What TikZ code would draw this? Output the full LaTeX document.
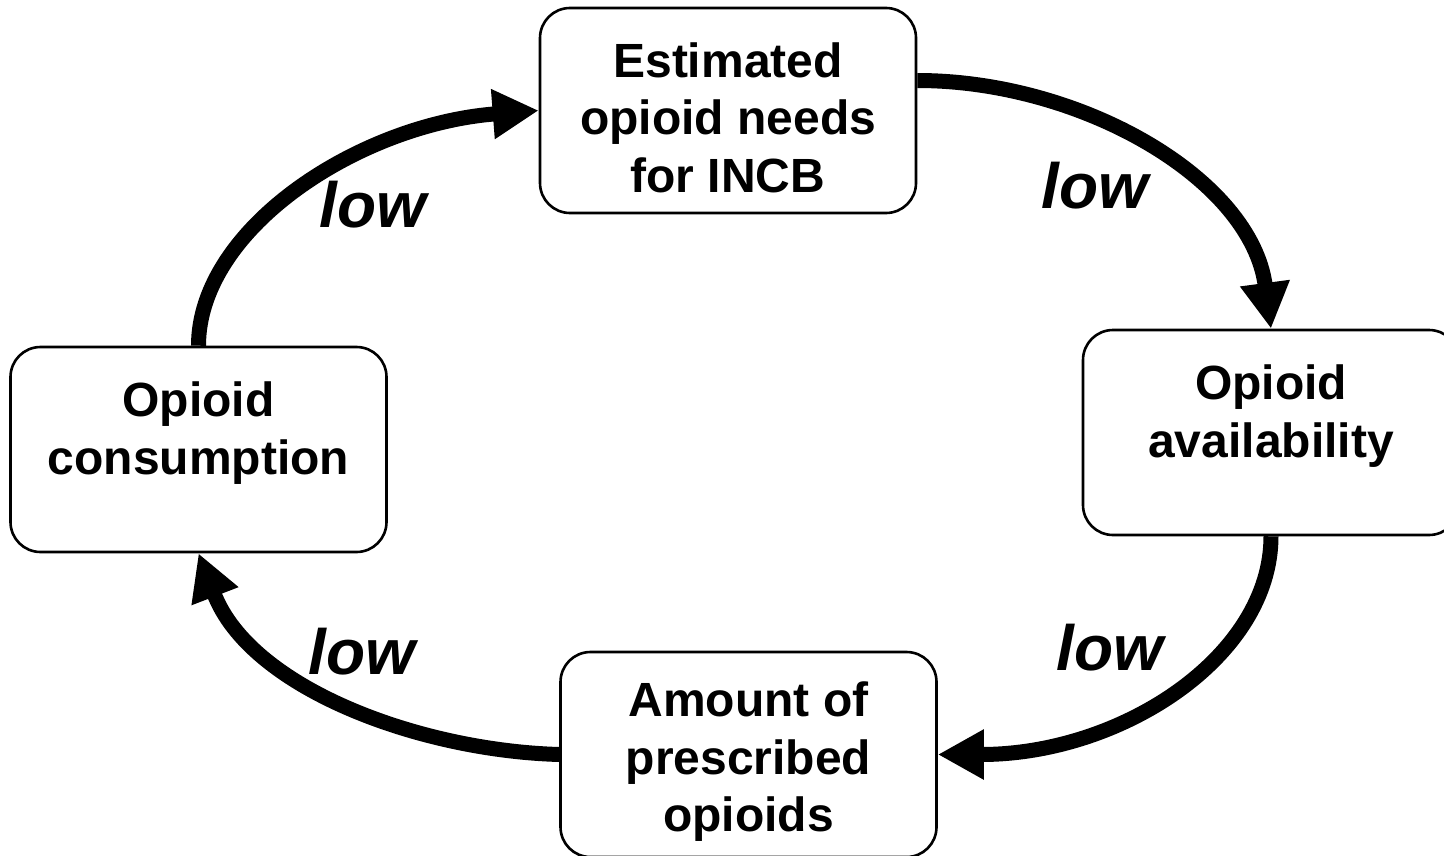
\documentclass[tikz,border=0pt]{standalone}
\usepackage{fontspec}
\setmainfont{Liberation Sans}
\usepackage{tikz}
\usetikzlibrary{arrows.meta,shapes}

\tikzset{
  box/.style={draw,line width=1.3bp,rounded corners=15bp,fill=white,
    minimum width=188bp,minimum height=102.5bp,align=center,text height=82bp,
    font=\fontsize{24bp}{28.75bp}\selectfont\bfseries},
  lowlbl/.style={font=\fontsize{32bp}{38bp}\selectfont\bfseries\itshape},
  flow/.style={->,line width=7.5bp},
  >={Triangle[length=23bp,width=23.5bp]}
}

\begin{document}
\begin{tikzpicture}

\useasboundingbox (0bp,0bp) rectangle (722bp,-428bp);

\node (est) at (364bp,-55.25bp)[box] {Estimated\\opioid needs\\for INCB};
\node (avail) at (635.5bp,-216.25bp)[box] {Opioid\\availability\\\mbox{}};
\node (presc) at (374.25bp,-377.25bp)[box] {Amount of\\prescribed\\opioids};
\node (cons) at (99.25bp,-224.75bp)[box] {Opioid\\consumption\\\mbox{}};

\draw [flow] ([yshift=15bp]est.east) .. controls +(82bp,0bp) and +(-10bp,75bp) .. (avail.north);
\draw [flow] (avail.south) .. controls +(0bp,-60bp) and +(92bp,0bp) .. (presc.east);
\draw [flow] (presc.west) .. controls +(-70bp,2bp) and +(26bp,-67.5bp) .. (cons.south);
\draw [flow] (cons.north) .. controls +(0bp,58.5bp) and +(-90bp,-7bp) .. (est.west);

\node (low1) at (547.5bp,-93bp)[lowlbl] {low};
\node (low2) at (555bp,-324bp)[lowlbl] {low};
\node (low3) at (181bp,-326bp)[lowlbl] {low};
\node (low4) at (186.5bp,-102.5bp)[lowlbl] {low};
\end{tikzpicture}
\end{document}
